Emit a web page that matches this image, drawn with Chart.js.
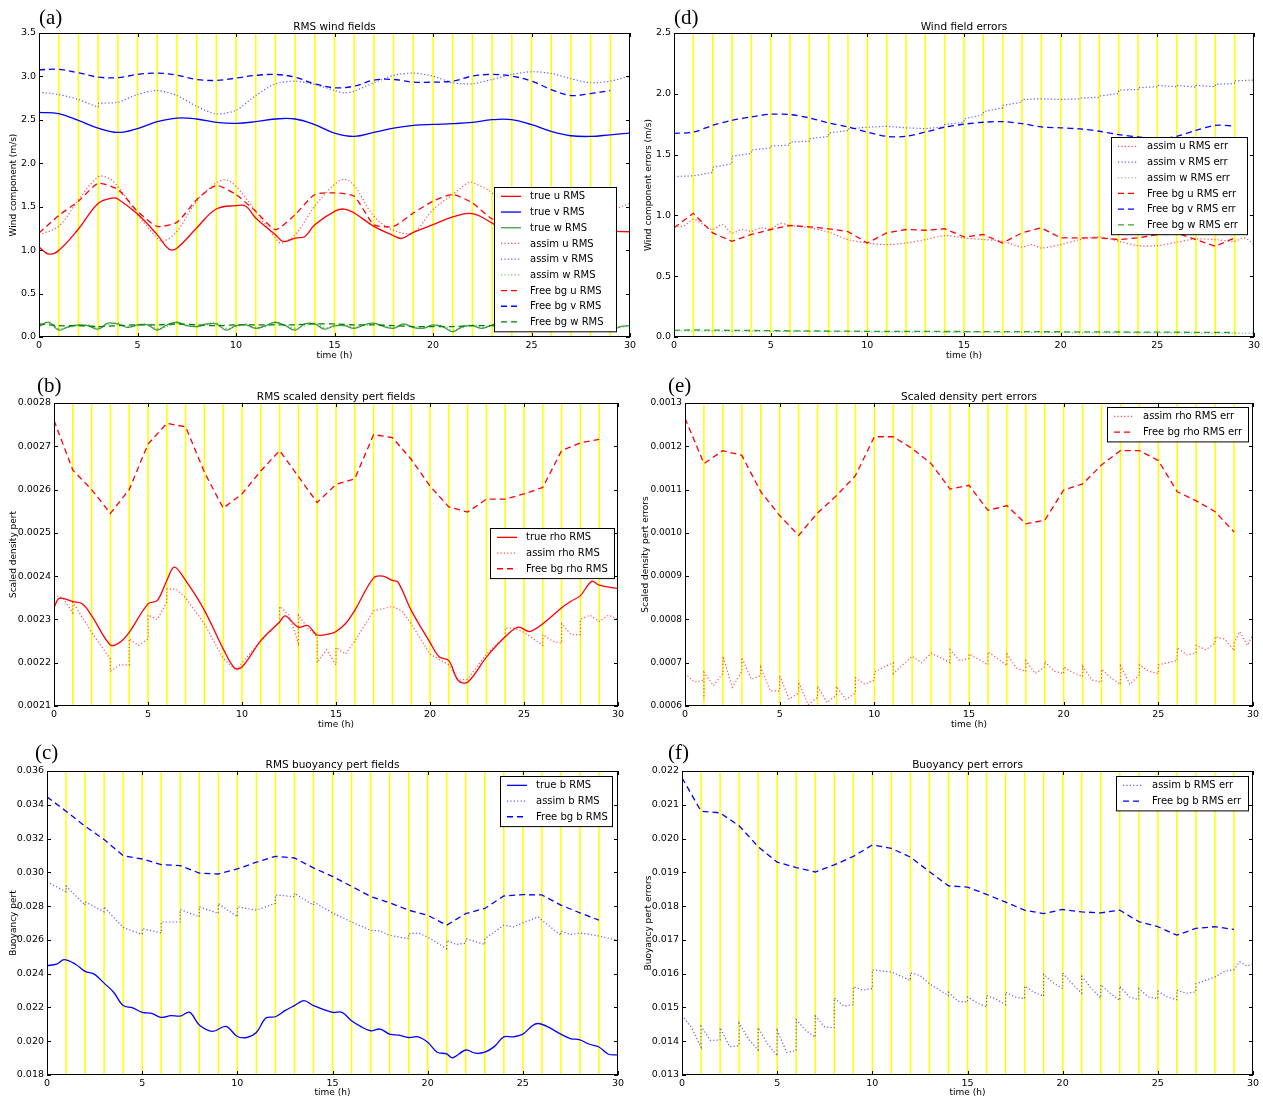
<!DOCTYPE html>
<html>
<head>
<meta charset="utf-8">
<script src="https://cdn.jsdelivr.net/npm/chart.js@4.4.0/dist/chart.umd.min.js"></script>
<style>
  body { margin: 0; background: #fff; width: 1263px; height: 1103px; position: relative; overflow: hidden; }
  canvas { position: absolute; }
</style>
</head>
<body>
<canvas id="chartA" width="640" height="368" style="left:0;top:0"></canvas>
<canvas id="chartD" width="623" height="368" style="left:640px;top:0"></canvas>
<canvas id="chartB" width="640" height="369" style="left:0;top:368px"></canvas>
<canvas id="chartE" width="623" height="369" style="left:640px;top:368px"></canvas>
<canvas id="chartC" width="640" height="366" style="left:0;top:737px"></canvas>
<canvas id="chartF" width="623" height="366" style="left:640px;top:737px"></canvas>
<script>
// ---- shared axes ----
const hours = [0,1,2,3,4,5,6,7,8,9,10,11,12,13,14,15,16,17,18,19,20,21,22,23,24,25,26,27,28,29,30];
const hours29 = [0,1,2,3,4,5,6,7,8,9,10,11,12,13,14,15,16,17,18,19,20,21,22,23,24,25,26,27,28,29];
const halfHours = [0,0.5,1,1.5,2,2.5,3,3.5,4,4.5,5,5.5,6,6.5,7,7.5,8,8.5,9,9.5,10,10.5,11,11.5,12,12.5,13,13.5,14,14.5,15,15.5,16,16.5,17,17.5,18,18.5,19,19.5,20,20.5,21,21.5,22,22.5,23,23.5,24,24.5,25,25.5,26,26.5,27,27.5,28,28.5,29,29.5,30];
const assimHours = [1,2,3,4,5,6,7,8,9,10,11,12,13,14,15,16,17,18,19,20,21,22,23,24,25,26,27,28,29];
const xTicks = [0,5,10,15,20,25,30];

// ---- (a) RMS wind fields ----
const aTicks = [0,0.5,1,1.5,2,2.5,3,3.5];
const aTrueU_t = [0,0.5,1,2,3,3.7,4,5,6,6.6,7,8,9,10,10.5,11,12,12.4,13,13.5,14,15,15.5,16,17,18,18.4,19,20,21,22,23,23.5,24,25,26,27,28,29,30];
const aTrueU = [1.035,0.955,0.996,1.243,1.537,1.600,1.589,1.415,1.178,1.012,1.023,1.255,1.473,1.512,1.506,1.369,1.178,1.100,1.139,1.158,1.293,1.447,1.473,1.427,1.274,1.166,1.135,1.205,1.293,1.382,1.420,1.312,1.255,1.225,1.205,1.195,1.200,1.208,1.215,1.212];
const aTrueV = [2.587,2.571,2.494,2.405,2.355,2.400,2.479,2.521,2.510,2.471,2.459,2.479,2.510,2.510,2.444,2.347,2.309,2.355,2.405,2.436,2.448,2.456,2.471,2.502,2.502,2.444,2.367,2.317,2.309,2.328,2.347];
const aTrueW = [0.12,0.17,0.08,0.12,0.14,0.13,0.09,0.16,0.15,0.11,0.14,0.14,0.08,0.14,0.17,0.13,0.12,0.15,0.15,0.08,0.13,0.14,0.10,0.13,0.17,0.13,0.08,0.15,0.15,0.09,0.13,0.13,0.10,0.14,0.16,0.12,0.10,0.15,0.11,0.10,0.14,0.12,0.06,0.12,0.13,0.10,0.14,0.16,0.12,0.10,0.14,0.13,0.10,0.14,0.12,0.10,0.14,0.12,0.07,0.12,0.13];
const aAssimU_t = [0,1,2,3,3.5,4,5,6,6.3,7,8,9,9.5,10,11,12,12.3,13,14,15,15.5,16,17,18,19,20,21,21.8,22,23,24,25,26,27,28,29,30];
const aAssimU = [1.178,1.274,1.58,1.844,1.832,1.735,1.409,1.139,1.10,1.216,1.564,1.776,1.807,1.735,1.448,1.139,1.081,1.178,1.506,1.757,1.815,1.745,1.39,1.228,1.205,1.467,1.64,1.78,1.78,1.659,1.43,1.40,1.33,1.30,1.36,1.45,1.54];
const aAssimV_t = [0,1,2,3,3,4,5,6,7,8,9,10,11,12,13,14,15,15.5,16,17,18,19,20,21,22,23,24,25,26,27,28,29,30];
const aAssimV = [2.819,2.792,2.734,2.649,2.687,2.703,2.792,2.838,2.78,2.656,2.568,2.61,2.78,2.915,2.946,2.907,2.838,2.811,2.83,2.927,3.012,3.039,3.004,2.927,2.915,2.965,3.023,3.054,3.035,2.973,2.927,2.946,3.004];
const aAssimW = [0.14,0.16,0.10,0.11,0.13,0.14,0.11,0.14,0.16,0.12,0.13,0.15,0.10,0.12,0.16,0.14,0.12,0.14,0.16,0.10,0.12,0.15,0.11,0.12,0.16,0.14,0.10,0.13,0.16,0.11,0.12,0.14,0.11,0.13,0.15,0.13,0.11,0.14,0.12,0.11,0.13,0.13,0.08,0.11,0.14,0.11,0.13,0.15,0.13,0.11,0.13,0.14,0.11,0.13,0.13,0.11,0.13,0.13,0.09,0.11,0.13];
const aBgU = [1.197,1.398,1.564,1.768,1.699,1.447,1.274,1.32,1.581,1.743,1.64,1.447,1.236,1.409,1.64,1.659,1.62,1.293,1.274,1.427,1.564,1.64,1.544,1.359,1.312,1.30,1.32,1.35,1.30,1.28];
const aBgV = [3.077,3.081,3.042,2.992,2.985,3.023,3.039,3.015,2.965,2.954,2.981,3.012,3.023,2.992,2.915,2.869,2.888,2.958,2.965,2.934,2.934,2.946,3.004,3.023,3.004,2.946,2.849,2.78,2.803,2.838];
const aBgW = [0.15,0.13,0.13,0.12,0.13,0.14,0.14,0.15,0.14,0.13,0.14,0.14,0.14,0.14,0.15,0.15,0.14,0.14,0.13,0.12,0.12,0.12,0.13,0.13,0.13,0.13,0.13,0.13,0.13,0.13];

// ---- (d) Wind field errors ----
const dTicks = [0,0.5,1,1.5,2,2.5];
const dAssimU_t = [0,0.5,1,1.5,2,2.5,3,3.5,4,4.5,5,5.5,6,7,8,9,10,11,12,13,14,15,16,17,18,18.5,19,20,21,22,23,24,25,26,27,28,29,29.5,30];
const dAssimU = [0.906,0.912,0.967,0.925,0.884,0.925,0.856,0.884,0.87,0.898,0.89,0.934,0.917,0.898,0.862,0.801,0.773,0.76,0.773,0.801,0.834,0.815,0.801,0.787,0.74,0.76,0.732,0.76,0.801,0.823,0.787,0.751,0.751,0.779,0.806,0.801,0.787,0.815,0.76];
const dAssimV_t = [0,1,2,2,3,3,4,4,5,5,6,6,7,7,8,8,9,9,10,11,12,13,14,14,15,15,16,16,17,17,18,18,19,20,21,21,22,22,23,23,24,24,25,25,26,26,27,27,28,28,29,29,30];
const dAssimV = [1.32,1.325,1.354,1.396,1.424,1.487,1.509,1.537,1.556,1.57,1.578,1.603,1.611,1.63,1.65,1.678,1.697,1.711,1.725,1.733,1.72,1.714,1.728,1.747,1.766,1.793,1.829,1.854,1.884,1.904,1.931,1.953,1.959,1.953,1.959,1.964,1.972,1.981,2.003,2.03,2.036,2.05,2.058,2.069,2.058,2.069,2.055,2.069,2.058,2.077,2.085,2.107,2.113];
const dAssimW_t = [0,5,10,15,20,25,30];
const dAssimW = [0.050,0.047,0.043,0.040,0.037,0.034,0.031];
const dBgU = [0.898,1.017,0.856,0.787,0.843,0.884,0.917,0.906,0.89,0.867,0.773,0.856,0.884,0.878,0.89,0.823,0.843,0.773,0.856,0.898,0.815,0.815,0.815,0.801,0.815,0.843,0.856,0.801,0.746,0.815];
const dBgV = [1.674,1.685,1.74,1.782,1.81,1.832,1.829,1.802,1.76,1.728,1.685,1.65,1.65,1.685,1.725,1.75,1.766,1.771,1.755,1.728,1.72,1.711,1.692,1.664,1.645,1.63,1.65,1.70,1.74,1.735];
const dBgW_t = [0,1,5,10,15,20,25,29];
const dBgW = [0.055,0.058,0.052,0.047,0.045,0.043,0.040,0.037];

// ---- (b) RMS scaled density pert fields ----
const bTicks = [0.0021,0.0022,0.0023,0.0024,0.0025,0.0026,0.0027,0.0028];
const bTrueRho_t = [0,0.3,1,1.5,2,3,3.5,4,5,5.5,6,6.4,7,8,9,9.6,10,11,12,12.3,13,13.5,14,14.7,15,15.5,16,17,17.5,18,18.3,19,20,20.5,21,21.5,22,23,24,24.7,25.3,26,27,27.5,28,28.6,29,30];
const bTrueRho = [0.002328,0.002349,0.002341,0.002336,0.002309,0.002241,0.002247,0.00227,0.002336,0.002344,0.00239,0.002421,0.00239,0.002321,0.002232,0.002188,0.00219,0.002251,0.002294,0.002308,0.002282,0.002286,0.002264,0.002267,0.002272,0.00229,0.002321,0.002396,0.0024,0.00239,0.002386,0.002321,0.002247,0.002213,0.002205,0.002159,0.002155,0.002213,0.00226,0.002282,0.002272,0.00229,0.002327,0.002342,0.002355,0.002388,0.002379,0.002371];
const bAssimRho_t = [0,0.5,1,1,2,3,3,3.5,4,4,4.5,5,5,5.5,6,6,6.5,7,8,9,9.7,10,11,12,12,12.5,13,13,13.5,14,14,14.5,15,15,15.5,16,17,18,18.5,19,20,21,21.5,22,23,24,24,24.5,25,26,26,26.5,27,27,27.5,28,28,28.5,29,29.5,30];
const bAssimRho = [0.002358,0.002348,0.002315,0.00234,0.00227,0.002208,0.00218,0.002195,0.002195,0.002255,0.00224,0.002255,0.00231,0.0023,0.00234,0.00237,0.00237,0.00235,0.00229,0.00221,0.002182,0.0022,0.00225,0.002295,0.00233,0.00231,0.002245,0.00231,0.00228,0.00226,0.0022,0.00223,0.002195,0.002235,0.00222,0.00225,0.00232,0.00233,0.00232,0.00229,0.00222,0.002195,0.00216,0.002162,0.00222,0.00226,0.00228,0.00228,0.00227,0.00224,0.002265,0.00225,0.002245,0.00229,0.002265,0.002265,0.0023,0.00231,0.002295,0.00231,0.0023];
const bBgRho = [0.00276,0.002645,0.0026,0.002545,0.0026,0.002705,0.002753,0.002745,0.00264,0.002557,0.00259,0.002643,0.00269,0.00263,0.00257,0.002612,0.002625,0.002727,0.00272,0.00267,0.002608,0.00256,0.002548,0.002578,0.002578,0.00259,0.002605,0.00269,0.002708,0.002716];

// ---- (e) Scaled density pert errors ----
const eTicks = [0.0006,0.0007,0.0008,0.0009,0.0010,0.0011,0.0012,0.0013];
const eAssimRho_t = [0,0.5,1,1,1,1.5,2,2,2.5,3,3,3.5,4,4,4.5,5,5,5.5,6,6,6.5,7,7,7.5,8,8,8.5,9,9,9.5,10,10,10.5,11,11,12,12.5,13,13.5,14,14,14.5,15,15,15.5,16,16,16.5,17,17,17.5,18,18,18.5,19,19,19.5,20,20,20.5,21,21,21.5,22,22,22.5,23,23,23.5,24,24,24.5,25,25,25.5,26,26,26.5,27,27,27.5,28,28,28.5,29,29,29.3,29.7,30];
const eAssimRho = [0.000675,0.000655,0.00066,0.000616,0.000678,0.000647,0.000675,0.000715,0.000643,0.00068,0.000712,0.000662,0.00067,0.00069,0.000635,0.000635,0.00067,0.000616,0.00063,0.000655,0.000603,0.00062,0.000646,0.000608,0.000625,0.000645,0.000615,0.00063,0.000665,0.00065,0.00066,0.000678,0.00069,0.0007,0.000675,0.000715,0.0007,0.000722,0.000712,0.0007,0.00073,0.000705,0.00071,0.00072,0.000708,0.000695,0.000725,0.00071,0.000693,0.00072,0.000688,0.00068,0.000705,0.000675,0.00069,0.000703,0.00068,0.000675,0.00069,0.000677,0.000668,0.000692,0.00066,0.000655,0.000685,0.000665,0.00065,0.000693,0.00065,0.000672,0.000695,0.00068,0.000675,0.000695,0.0007,0.000705,0.000735,0.000718,0.000722,0.00074,0.00073,0.000745,0.00076,0.000755,0.000728,0.000745,0.000772,0.00074,0.000765];
const eBgRho = [0.001265,0.00116,0.00119,0.001179,0.001095,0.00104,0.000994,0.001046,0.001086,0.001132,0.001222,0.001222,0.001195,0.00116,0.001101,0.00111,0.001052,0.001063,0.001021,0.001029,0.001099,0.001113,0.001157,0.00119,0.00119,0.001167,0.001095,0.001074,0.001049,0.001002];

// ---- (c) RMS buoyancy pert fields ----
const cTicks = [0.018,0.020,0.022,0.024,0.026,0.028,0.030,0.032,0.034,0.036];
const cTrueB_t = [0,0.5,0.9,1.5,2,2.5,3,3.5,4,4.5,5,5.5,6,6.5,7,7.5,8,8.7,9.4,10,10.5,11,11.5,12,12.5,13,13.5,14,15,15.5,16,16.5,17,17.5,18,18.5,19,19.5,20,20.5,21,21.3,22,22.5,23,23.5,24,24.5,25,25.5,25.8,26.3,27,27.5,28,28.5,29,29.5,30];
const cTrueB = [0.02448,0.02456,0.02483,0.02456,0.02414,0.02396,0.02344,0.0229,0.02211,0.02197,0.02171,0.02165,0.02141,0.02151,0.02149,0.02171,0.02096,0.02058,0.02088,0.02028,0.02022,0.02052,0.02137,0.02145,0.02181,0.02211,0.0224,0.02211,0.02171,0.02171,0.02121,0.02086,0.02062,0.02072,0.02042,0.02036,0.02022,0.02026,0.01994,0.01935,0.01925,0.01901,0.01948,0.01929,0.01935,0.01968,0.02026,0.02026,0.02042,0.02092,0.02105,0.02086,0.02042,0.02016,0.02008,0.01982,0.01966,0.01923,0.01919];
const cAssimB_t = [0,1,1,2,2,3,3,4,5,5,6,6,7,7,8,8,9,9,10,10,11,12,12,13,13,14,14,15,16,17,17.5,18,19,19,19.5,20,21,21,21.5,22,22,23,23,24,24.5,25,25.8,26,27,27,27.5,28,29,30];
const cAssimB = [0.02944,0.02885,0.02919,0.02806,0.02826,0.02766,0.02796,0.02673,0.02633,0.02667,0.02641,0.02706,0.02706,0.0278,0.02736,0.02796,0.02756,0.02816,0.02736,0.02796,0.02776,0.02816,0.02866,0.02856,0.02876,0.02806,0.02826,0.0276,0.02706,0.02657,0.02653,0.02627,0.02607,0.02637,0.02641,0.02617,0.02548,0.02597,0.02573,0.02581,0.02607,0.02573,0.02607,0.02687,0.02677,0.02701,0.02736,0.02717,0.02627,0.02653,0.02631,0.02641,0.02623,0.02597];
const cBgB = [0.03447,0.03362,0.03273,0.03194,0.03099,0.03079,0.03046,0.0304,0.02996,0.0299,0.0302,0.0306,0.03095,0.03085,0.03026,0.02976,0.02917,0.02857,0.0282,0.02776,0.02746,0.02687,0.02756,0.02786,0.0286,0.02868,0.02866,0.02806,0.0276,0.02717];

// ---- (f) Buoyancy pert errors ----
const fTicks = [0.013,0.014,0.015,0.016,0.017,0.018,0.019,0.020,0.021,0.022];
const fAssimB_t = [0,0.5,1,1,1.5,2,2,2.5,3,3,3.5,4,4,4.5,5,5,5.5,6,6,6.5,7,7,7.5,8,8,8.5,9,9,9.5,10,10,11,12,12,12.5,13,14,14,14.5,15,15,15.5,16,16,16.5,17,17,17.5,18,18,18.5,19,19,19.5,20,20,20.5,21,21,21.5,22,22,22.5,23,23,23.5,24,24,24.5,25,25,25.5,26,26,26.5,27,27,27.5,28,28.5,29,29.3,29.7,30];
const fAssimB = [0.01477,0.0144,0.01382,0.01444,0.01402,0.01404,0.0144,0.01384,0.01387,0.01454,0.01406,0.01374,0.0144,0.01392,0.01357,0.01432,0.01367,0.01372,0.01464,0.01432,0.01412,0.01475,0.01442,0.0144,0.01528,0.01504,0.01508,0.01561,0.01551,0.01556,0.01611,0.01605,0.0158,0.01602,0.01595,0.0157,0.01535,0.01545,0.01518,0.01516,0.01531,0.01514,0.01501,0.01535,0.01525,0.01508,0.01545,0.01531,0.01526,0.01563,0.01545,0.01533,0.01598,0.01573,0.01556,0.01602,0.0157,0.01542,0.01592,0.01557,0.01528,0.01567,0.01542,0.01521,0.01563,0.01531,0.01523,0.01556,0.01531,0.01526,0.01548,0.01531,0.01523,0.01551,0.01542,0.01546,0.0157,0.0158,0.0159,0.01607,0.01612,0.01635,0.01622,0.0163];
const fBgB = [0.0218,0.02081,0.02076,0.02038,0.01976,0.0193,0.01914,0.01901,0.01922,0.01947,0.01981,0.01971,0.01945,0.01902,0.0186,0.01856,0.01835,0.01812,0.01788,0.01778,0.0179,0.01783,0.0178,0.01788,0.01754,0.01739,0.01714,0.01734,0.01739,0.01731];

// colours (matplotlib classic r / b / g)
const RED = '#ff0000', RED_DOT = 'rgba(255,0,0,0.7)';
const BLUE = '#0000ff', BLUE_DOT = 'rgba(0,0,255,0.65)';
const GREEN = '#008000', GREEN_SOLID = 'rgba(0,128,0,0.75)', GREEN_DOT = 'rgba(0,150,0,0.6)';
const FONT = '"DejaVu Sans", Verdana, sans-serif';

const DASH = { solid: [], dot: [1.2, 2.2], dash: [6, 4] };

function pts(ts, vs) {
    return vs.map((v, i) => ({ x: ts[i], y: v }));
}

function series(label, ts, vs, color, style, tension) {
    return {
        label: label,
        data: pts(ts, vs),
        borderColor: color,
        backgroundColor: color,
        borderWidth: style === 'dot' ? 1.2 : 1.3,
        borderDash: DASH[style],
        pointRadius: 0,
        fill: false,
        tension: tension || 0
    };
}

// draws the matplotlib-like frame, ticks, texts, legend and the yellow hour lines
function decorPlugin(p) {
    return {
        id: 'decor',
        beforeDatasetsDraw(chart) {
            const { ctx, chartArea: a, scales: { x } } = chart;
            ctx.save();
            ctx.strokeStyle = '#ffff00';
            ctx.lineWidth = 1.5;
            assimHours.forEach(t => {
                const px = x.getPixelForValue(t);
                ctx.beginPath();
                ctx.moveTo(px, a.top);
                ctx.lineTo(px, a.bottom);
                ctx.stroke();
            });
            ctx.restore();
        },
        afterDraw(chart) {
            const { ctx, chartArea: a, scales: { x, y } } = chart;
            ctx.save();
            // frame
            ctx.strokeStyle = '#000';
            ctx.lineWidth = 1;
            ctx.setLineDash([]);
            ctx.strokeRect(a.left + 0.5, a.top + 0.5, a.right - a.left - 1, a.bottom - a.top - 1);
            // inward ticks on all four sides
            ctx.beginPath();
            xTicks.forEach(t => {
                const px = Math.round(x.getPixelForValue(t)) + 0.5;
                ctx.moveTo(px, a.bottom); ctx.lineTo(px, a.bottom - 4);
                ctx.moveTo(px, a.top); ctx.lineTo(px, a.top + 4);
            });
            p.yTicks.forEach(v => {
                const py = Math.round(y.getPixelForValue(v)) + 0.5;
                ctx.moveTo(a.left, py); ctx.lineTo(a.left + 4, py);
                ctx.moveTo(a.right, py); ctx.lineTo(a.right - 4, py);
            });
            ctx.stroke();

            ctx.fillStyle = '#000';
            // title
            ctx.font = '10.5px ' + FONT;
            ctx.textAlign = 'center';
            ctx.textBaseline = 'alphabetic';
            ctx.fillText(p.title, (a.left + a.right) / 2, a.top - 3);
            // x axis title
            ctx.font = '9px ' + FONT;
            ctx.textBaseline = 'middle';
            ctx.fillText('time (h)', (a.left + a.right) / 2, p.xTitleY);
            // y axis title
            ctx.save();
            ctx.translate(p.yTitleX, (a.top + a.bottom) / 2);
            ctx.rotate(-Math.PI / 2);
            ctx.fillText(p.yTitle, 0, 0);
            ctx.restore();
            // panel label
            ctx.font = '21px "Liberation Serif", "Times New Roman", serif';
            ctx.textAlign = 'left';
            ctx.textBaseline = 'alphabetic';
            ctx.fillText(p.label, p.labelX, p.labelY);

            // legend box
            const L = p.legend;
            const rowH = 15.7;
            const dsets = chart.data.datasets;
            const h = dsets.length * rowH + 3;
            ctx.fillStyle = '#fff';
            ctx.fillRect(L.x, L.y, L.w, h);
            ctx.strokeStyle = '#000';
            ctx.lineWidth = 1;
            ctx.strokeRect(L.x + 0.5, L.y + 0.5, L.w, h);
            ctx.font = '10px ' + FONT;
            ctx.textBaseline = 'middle';
            dsets.forEach((ds, i) => {
                const cy = L.y + 1.5 + rowH * (i + 0.5);
                ctx.strokeStyle = ds.borderColor;
                ctx.lineWidth = ds.borderWidth;
                ctx.setLineDash(ds.borderDash);
                ctx.beginPath();
                ctx.moveTo(L.x + 7, cy);
                ctx.lineTo(L.x + 27, cy);
                ctx.stroke();
                ctx.setLineDash([]);
                ctx.fillStyle = '#000';
                ctx.fillText(ds.label, L.x + 36, cy + 0.5);
            });
            ctx.restore();
        }
    };
}

function makePanel(id, p, datasets) {
    const canvas = document.getElementById(id);
    const W = canvas.width, H = canvas.height;
    const box = p.box;
    return new Chart(canvas, {
        type: 'line',
        data: { datasets: datasets },
        options: {
            responsive: false,
            animation: false,
            devicePixelRatio: 1,
            layout: { autoPadding: false, padding: { left: 0, top: box.top, right: W - box.right, bottom: 0 } },
            plugins: { legend: { display: false }, title: { display: false }, tooltip: { enabled: false } },
            scales: {
                x: {
                    type: 'linear', min: 0, max: 30,
                    grid: { display: false, drawTicks: false },
                    border: { display: false },
                    ticks: { color: '#000', font: { family: FONT, size: 9.5 }, padding: 3, maxRotation: 0, autoSkip: false,
                             callback: v => String(v) },
                    afterBuildTicks: s => { s.ticks = xTicks.map(v => ({ value: v })); },
                    afterFit: s => { s.height = H - box.bottom; }
                },
                y: {
                    type: 'linear', min: p.yTicks[0], max: p.yTicks[p.yTicks.length - 1],
                    grid: { display: false, drawTicks: false },
                    border: { display: false },
                    ticks: { color: '#000', font: { family: FONT, size: p.tickSize || 9.5 }, padding: 3, autoSkip: false,
                             callback: v => v.toFixed(p.dec) },
                    afterBuildTicks: s => { s.ticks = p.yTicks.map(v => ({ value: v })); },
                    afterFit: s => { s.width = box.left; }
                }
            }
        },
        plugins: [decorPlugin(p)]
    });
}

document.addEventListener('DOMContentLoaded', function () {
    // (a)
    makePanel('chartA', {
        box: { left: 39, right: 630, top: 33, bottom: 337 },
        yTicks: aTicks, dec: 1,
        title: 'RMS wind fields', yTitle: 'Wind component (m/s)',
        label: '(a)', labelX: 39, labelY: 24, yTitleX: 14, xTitleY: 356,
        legend: { x: 494, y: 187, w: 122 }
    }, [
        series('true u RMS', aTrueU_t, aTrueU, RED, 'solid', 0.4),
        series('true v RMS', hours, aTrueV, BLUE, 'solid', 0.4),
        series('true w RMS', halfHours, aTrueW, GREEN_SOLID, 'solid', 0.4),
        series('assim u RMS', aAssimU_t, aAssimU, RED_DOT, 'dot', 0.35),
        series('assim v RMS', aAssimV_t, aAssimV, BLUE_DOT, 'dot', 0.25),
        series('assim w RMS', halfHours, aAssimW, GREEN_DOT, 'dot', 0.4),
        series('Free bg u RMS', hours29, aBgU, RED, 'dash', 0.2),
        series('Free bg v RMS', hours29, aBgV, BLUE, 'dash', 0.35),
        series('Free bg w RMS', hours29, aBgW, GREEN, 'dash', 0.3)
    ]);

    // (d)
    makePanel('chartD', {
        box: { left: 34, right: 615, top: 33, bottom: 337 },
        yTicks: dTicks, dec: 1,
        title: 'Wind field errors', yTitle: 'Wind component errors (m/s)',
        label: '(d)', labelX: 34, labelY: 24, yTitleX: 9, xTitleY: 356,
        legend: { x: 471, y: 137, w: 136 }
    }, [
        series('assim u RMS err', dAssimU_t, dAssimU, RED_DOT, 'dot', 0.3),
        series('assim v RMS err', dAssimV_t, dAssimV, BLUE_DOT, 'dot', 0),
        series('assim w RMS err', dAssimW_t, dAssimW, GREEN_DOT, 'dot', 0),
        series('Free bg u RMS err', hours29, dBgU, RED, 'dash', 0),
        series('Free bg v RMS err', hours29, dBgV, BLUE, 'dash', 0.3),
        series('Free bg w RMS err', dBgW_t, dBgW, 'rgba(0,140,0,0.8)', 'dash', 0)
    ]);

    // (b)
    makePanel('chartB', {
        box: { left: 54, right: 618, top: 35, bottom: 338 },
        yTicks: bTicks, dec: 4,
        title: 'RMS scaled density pert fields', yTitle: 'Scaled density pert',
        label: '(b)', labelX: 37, labelY: 24, yTitleX: 14, xTitleY: 357,
        legend: { x: 490, y: 160, w: 124 }
    }, [
        series('true rho RMS', bTrueRho_t, bTrueRho, RED, 'solid', 0.35),
        series('assim rho RMS', bAssimRho_t, bAssimRho, RED_DOT, 'dot', 0),
        series('Free bg rho RMS', hours29, bBgRho, RED, 'dash', 0)
    ]);

    // (e)
    makePanel('chartE', {
        box: { left: 45, right: 613, top: 35, bottom: 338 },
        yTicks: eTicks, dec: 4, tickSize: 9,
        title: 'Scaled density pert errors', yTitle: 'Scaled density pert errors',
        label: '(e)', labelX: 28, labelY: 24, yTitleX: 6, xTitleY: 357,
        legend: { x: 467, y: 39, w: 141 }
    }, [
        series('assim rho RMS err', eAssimRho_t, eAssimRho, RED_DOT, 'dot', 0),
        series('Free bg rho RMS err', hours29, eBgRho, RED, 'dash', 0)
    ]);

    // (c)
    makePanel('chartC', {
        box: { left: 47, right: 618, top: 34, bottom: 338 },
        yTicks: cTicks, dec: 3,
        title: 'RMS buoyancy pert fields', yTitle: 'Buoyancy pert',
        label: '(c)', labelX: 35, labelY: 22, yTitleX: 14, xTitleY: 356,
        legend: { x: 500, y: 39, w: 112 }
    }, [
        series('true b RMS', cTrueB_t, cTrueB, BLUE, 'solid', 0.35),
        series('assim b RMS', cAssimB_t, cAssimB, BLUE_DOT, 'dot', 0),
        series('Free bg b RMS', hours29, cBgB, BLUE, 'dash', 0)
    ]);

    // (f)
    makePanel('chartF', {
        box: { left: 42, right: 613, top: 34, bottom: 338 },
        yTicks: fTicks, dec: 3,
        title: 'Buoyancy pert errors', yTitle: 'Buoyancy pert errors',
        label: '(f)', labelX: 28, labelY: 22, yTitleX: 9, xTitleY: 356,
        legend: { x: 476, y: 39, w: 132 }
    }, [
        series('assim b RMS err', fAssimB_t, fAssimB, BLUE_DOT, 'dot', 0),
        series('Free bg b RMS err', hours29, fBgB, BLUE, 'dash', 0)
    ]);
});
</script>
</body>
</html>
